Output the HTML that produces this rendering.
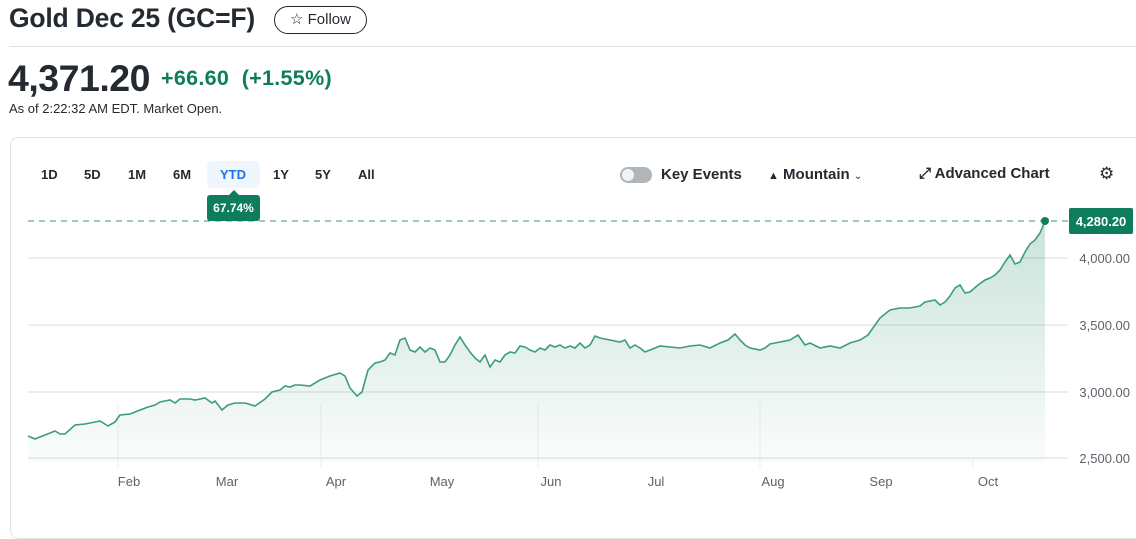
<!DOCTYPE html>
<html><head><meta charset="utf-8"><style>
body{margin:0;width:1136px;height:499px;overflow:hidden;background:#fff;font-family:"Liberation Sans",sans-serif;color:#232a31;position:relative}
.a{position:absolute;white-space:nowrap}
</style></head><body>
<div class="a" style="left:9px;top:3px;font-size:26.5px;font-weight:bold;letter-spacing:-0.2px">Gold Dec 25 (GC=F)</div>
<div class="a" style="left:274px;top:6px;width:91px;height:26px;border:1px solid #232a31;border-radius:14px;font-size:15px;line-height:26px;text-align:center">☆ Follow</div>
<div class="a" style="left:9px;top:46px;width:1127px;height:1px;background:#e0e3e6"></div>
<div class="a" style="left:8px;top:57px;font-size:37.5px;font-weight:bold;letter-spacing:-0.5px">4,371.20</div>
<div class="a" style="left:161px;top:66px;font-size:21.5px;font-weight:bold;color:#0e7d5c;letter-spacing:0.3px">+66.60 &nbsp;(+1.55%)</div>
<div class="a" style="left:9px;top:101px;font-size:13px">As of 2:22:32 AM EDT. Market Open.</div>
<div class="a" style="left:10px;top:137px;width:1140px;height:400px;border:1px solid #e0e3e6;border-radius:8px"></div>
<div class="a" style="left:207px;top:161px;width:53px;height:27px;background:#f0f6fd;border-radius:5px"></div>
<div class="a" style="top:167px;left:0;font-size:13px;font-weight:bold">
<span class="a" style="left:41px">1D</span><span class="a" style="left:84px">5D</span><span class="a" style="left:128px">1M</span><span class="a" style="left:173px">6M</span><span class="a" style="left:220px;color:#1a73e8">YTD</span><span class="a" style="left:273px">1Y</span><span class="a" style="left:315px">5Y</span><span class="a" style="left:358px">All</span></div>
<div class="a" style="left:207px;top:195px;width:53px;height:26px;background:#0e7d5c;border-radius:3px;color:#fff;font-size:12px;font-weight:bold;line-height:26px;text-align:center">67.74%</div>
<div class="a" style="left:229px;top:190px;width:0;height:0;border-left:5px solid transparent;border-right:5px solid transparent;border-bottom:5px solid #0e7d5c"></div>
<div class="a" style="left:620px;top:167px;width:32px;height:16px;background:#b0b5ba;border-radius:8px"></div>
<div class="a" style="left:622px;top:169px;width:12px;height:12px;background:#f0f2f4;border-radius:6px"></div>
<div class="a" style="left:661px;top:166px;font-size:15px;font-weight:bold">Key Events</div>
<div class="a" style="left:768px;top:166px;font-size:15px;font-weight:bold"><span style="font-size:11px">▲</span> Mountain <span style="font-size:10px;font-weight:normal">⌄</span></div>
<div class="a" style="left:919px;top:165px;font-size:15px;font-weight:bold">⤢ Advanced Chart</div>
<div class="a" style="left:1099px;top:164px;font-size:17px">⚙</div>
<svg class="a" style="left:0;top:0" width="1136" height="499">
<defs><linearGradient id="g" x1="0" y1="0" x2="0" y2="1"><stop offset="0" stop-color="#0e7d5c" stop-opacity="0.22"/><stop offset="1" stop-color="#0e7d5c" stop-opacity="0.02"/></linearGradient></defs>
<g stroke="#e6e8eb" stroke-width="1.5"><line x1="28" y1="258" x2="1068" y2="258"/><line x1="28" y1="325" x2="1068" y2="325"/><line x1="28" y1="392" x2="1068" y2="392"/><line x1="28" y1="458" x2="1068" y2="458"/></g>
<g stroke="#eceef0" stroke-width="1"><line x1="118" y1="403" x2="118" y2="468"/><line x1="321" y1="403" x2="321" y2="468"/><line x1="538" y1="403" x2="538" y2="468"/><line x1="760" y1="403" x2="760" y2="468"/><line x1="973" y1="460" x2="973" y2="468"/></g>
<line x1="28" y1="221" x2="1068" y2="221" stroke="#0e7d5c" stroke-width="1" stroke-dasharray="6,5" opacity="0.8"/>
<path fill="url(#g)" d="M28,436 L35,439 45,435 55,431 60,434 65,434 75,425 85,424 95,422 100,421 108,426 115,422 120,415 130,414 140,410 148,407 155,405 160,402 170,400 175,403 180,399 190,399 195,400 205,398 212,403 215,401 222,410 228,405 235,403 245,403 255,406 265,399 272,392 280,390 285,386 290,387 295,385 300,385 310,386 320,380 330,376 340,373 345,376 350,388 357,396 362,392 368,370 375,363 380,362 385,360 390,353 395,355 400,340 405,338 410,350 415,352 420,347 425,352 430,348 435,350 440,362 445,362 450,355 455,345 460,337 465,345 470,352 475,358 480,362 485,355 490,367 495,360 500,362 505,355 510,352 515,353 520,346 525,347 530,350 535,352 540,348 545,350 550,345 555,347 560,345 565,348 570,346 575,348 580,343 585,348 590,345 595,336 600,338 610,340 620,342 625,340 630,348 635,345 640,348 645,352 650,350 660,346 670,347 680,348 690,346 700,345 710,348 720,343 728,340 735,334 740,340 745,345 750,348 760,350 765,348 770,344 780,342 790,340 798,335 805,345 810,343 820,348 830,346 840,348 850,343 860,340 868,335 875,325 880,318 885,314 890,310 900,308 910,308 920,306 925,302 935,300 940,305 945,302 950,296 955,288 960,285 965,293 970,292 978,285 985,280 990,278 995,275 1000,270 1005,262 1010,255 1015,264 1020,262 1025,252 1030,244 1035,240 1040,233 1045,221 L1045,462 L28,462 Z"/>
<polyline fill="none" stroke="#3a9c80" stroke-width="1.6" points="28,436 35,439 45,435 55,431 60,434 65,434 75,425 85,424 95,422 100,421 108,426 115,422 120,415 130,414 140,410 148,407 155,405 160,402 170,400 175,403 180,399 190,399 195,400 205,398 212,403 215,401 222,410 228,405 235,403 245,403 255,406 265,399 272,392 280,390 285,386 290,387 295,385 300,385 310,386 320,380 330,376 340,373 345,376 350,388 357,396 362,392 368,370 375,363 380,362 385,360 390,353 395,355 400,340 405,338 410,350 415,352 420,347 425,352 430,348 435,350 440,362 445,362 450,355 455,345 460,337 465,345 470,352 475,358 480,362 485,355 490,367 495,360 500,362 505,355 510,352 515,353 520,346 525,347 530,350 535,352 540,348 545,350 550,345 555,347 560,345 565,348 570,346 575,348 580,343 585,348 590,345 595,336 600,338 610,340 620,342 625,340 630,348 635,345 640,348 645,352 650,350 660,346 670,347 680,348 690,346 700,345 710,348 720,343 728,340 735,334 740,340 745,345 750,348 760,350 765,348 770,344 780,342 790,340 798,335 805,345 810,343 820,348 830,346 840,348 850,343 860,340 868,335 875,325 880,318 885,314 890,310 900,308 910,308 920,306 925,302 935,300 940,305 945,302 950,296 955,288 960,285 965,293 970,292 978,285 985,280 990,278 995,275 1000,270 1005,262 1010,255 1015,264 1020,262 1025,252 1030,244 1035,240 1040,233 1045,221"/>
<circle cx="1045" cy="221" r="4" fill="#0e7d5c"/>
<rect x="1069" y="208" width="64" height="26" rx="2" fill="#0e7d5c"/>
<text x="1101" y="226" fill="#fff" font-size="13" font-weight="bold" text-anchor="middle" font-family="Liberation Sans">4,280.20</text>
<g font-family="Liberation Sans" font-size="13" fill="#5b636a" text-anchor="end"><text x="1130" y="263">4,000.00</text><text x="1130" y="330">3,500.00</text><text x="1130" y="397">3,000.00</text><text x="1130" y="463">2,500.00</text></g>
<g font-family="Liberation Sans" font-size="13" fill="#5b636a" text-anchor="middle"><text x="129" y="486">Feb</text><text x="227" y="486">Mar</text><text x="336" y="486">Apr</text><text x="442" y="486">May</text><text x="551" y="486">Jun</text><text x="656" y="486">Jul</text><text x="773" y="486">Aug</text><text x="881" y="486">Sep</text><text x="988" y="486">Oct</text></g>
</svg>
</body></html>
